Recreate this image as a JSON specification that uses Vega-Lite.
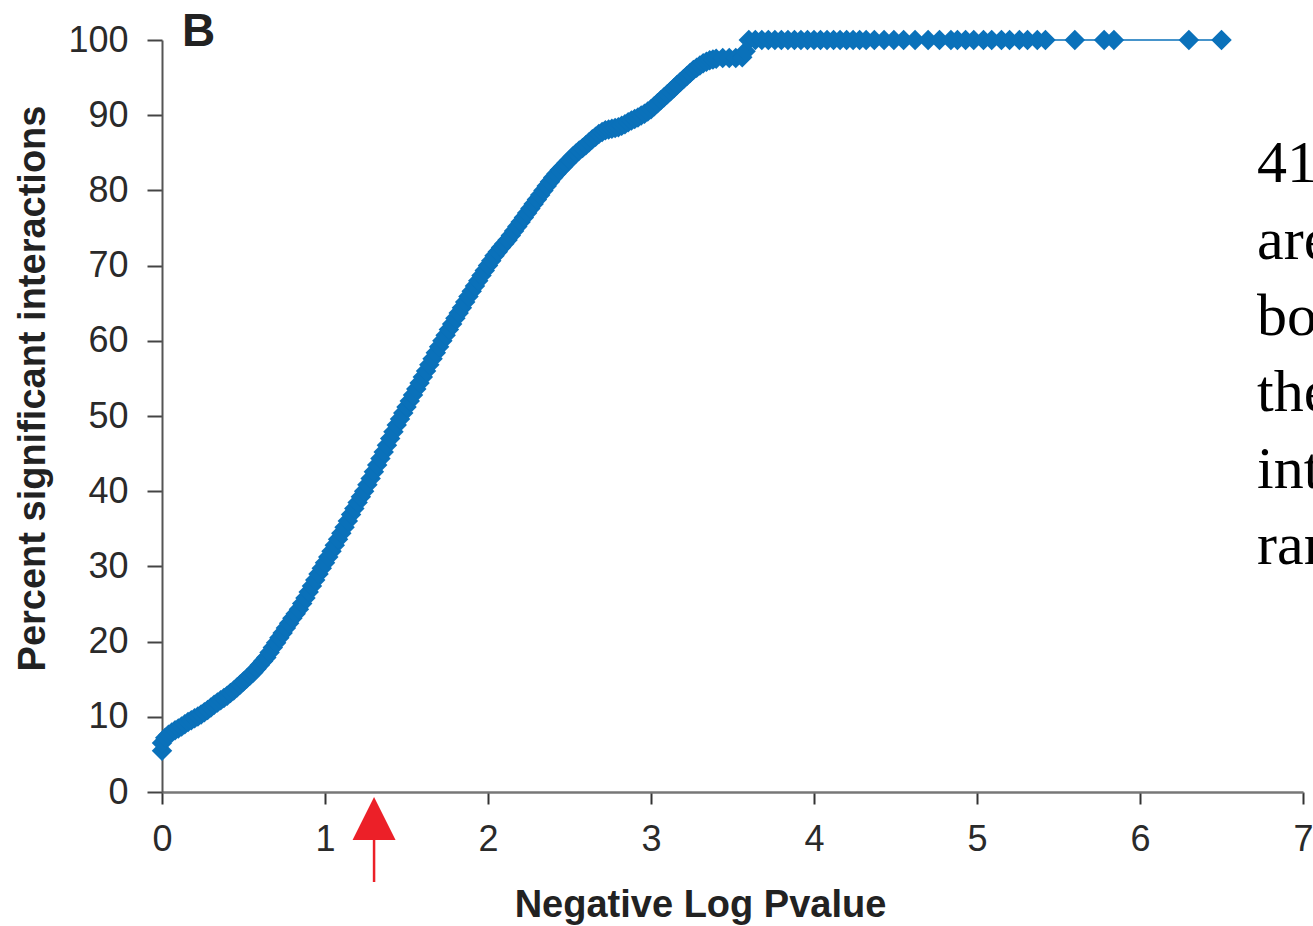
{
  "$schema": "https://vega.github.io/schema/vega-lite/v6.json",
  "width": 1141,
  "height": 752,
  "autosize": {"type": "none"},
  "padding": {"left": 162, "top": 40, "right": 10, "bottom": 134},
  "background": "white",
  "config": {"view": {"stroke": null}},
  "datasets": {
    "curve": [
      {"x":0.00,"y":5.5},{"x":0.00,"y":6.5},{"x":0.02,"y":7.2},{"x":0.04,"y":7.6},{"x":0.06,"y":7.9},{"x":0.08,"y":8.2},{"x":0.10,"y":8.45},{"x":0.12,"y":8.7},{"x":0.14,"y":9.0},{"x":0.16,"y":9.3},{"x":0.18,"y":9.55},{"x":0.20,"y":9.8},{"x":0.22,"y":10.05},{"x":0.24,"y":10.3},{"x":0.26,"y":10.6},{"x":0.28,"y":10.9},{"x":0.30,"y":11.25},{"x":0.32,"y":11.6},{"x":0.34,"y":11.9},{"x":0.36,"y":12.2},{"x":0.38,"y":12.5},{"x":0.40,"y":12.8},{"x":0.42,"y":13.15},{"x":0.44,"y":13.5},{"x":0.46,"y":13.9},{"x":0.48,"y":14.3},{"x":0.50,"y":14.7},{"x":0.52,"y":15.1},{"x":0.54,"y":15.5},{"x":0.56,"y":15.9},{"x":0.58,"y":16.4},{"x":0.60,"y":16.9},{"x":0.62,"y":17.4},{"x":0.64,"y":17.9},{"x":0.66,"y":18.55},{"x":0.68,"y":19.2},{"x":0.70,"y":19.85},{"x":0.72,"y":20.5},{"x":0.74,"y":21.15},{"x":0.76,"y":21.8},{"x":0.78,"y":22.45},{"x":0.80,"y":23.1},{"x":0.82,"y":23.7},{"x":0.84,"y":24.3},{"x":0.86,"y":25.05},{"x":0.88,"y":25.8},{"x":0.90,"y":26.6},{"x":0.92,"y":27.4},{"x":0.94,"y":28.2},{"x":0.96,"y":29.0},{"x":0.98,"y":29.75},{"x":1.00,"y":30.5},{"x":1.02,"y":31.25},{"x":1.04,"y":32.0},{"x":1.06,"y":32.8},{"x":1.08,"y":33.6},{"x":1.10,"y":34.4},{"x":1.12,"y":35.2},{"x":1.14,"y":36.05},{"x":1.16,"y":36.9},{"x":1.18,"y":37.7},{"x":1.20,"y":38.5},{"x":1.22,"y":39.25},{"x":1.24,"y":40.0},{"x":1.26,"y":40.85},{"x":1.28,"y":41.7},{"x":1.30,"y":42.6},{"x":1.32,"y":43.5},{"x":1.34,"y":44.35},{"x":1.36,"y":45.2},{"x":1.38,"y":46.1},{"x":1.40,"y":47.0},{"x":1.42,"y":47.9},{"x":1.44,"y":48.8},{"x":1.46,"y":49.6},{"x":1.48,"y":50.4},{"x":1.50,"y":51.2},{"x":1.52,"y":52.0},{"x":1.54,"y":52.8},{"x":1.56,"y":53.6},{"x":1.58,"y":54.4},{"x":1.60,"y":55.2},{"x":1.62,"y":56.0},{"x":1.64,"y":56.8},{"x":1.66,"y":57.6},{"x":1.68,"y":58.4},{"x":1.70,"y":59.2},{"x":1.72,"y":60.0},{"x":1.74,"y":60.75},{"x":1.76,"y":61.5},{"x":1.78,"y":62.25},{"x":1.80,"y":63.0},{"x":1.82,"y":63.7},{"x":1.84,"y":64.4},{"x":1.86,"y":65.15},{"x":1.88,"y":65.9},{"x":1.90,"y":66.6},{"x":1.92,"y":67.3},{"x":1.94,"y":68.0},{"x":1.96,"y":68.7},{"x":1.98,"y":69.35},{"x":2.00,"y":70.0},{"x":2.02,"y":70.65},{"x":2.04,"y":71.3},{"x":2.06,"y":71.85},{"x":2.08,"y":72.4},{"x":2.10,"y":72.9},{"x":2.12,"y":73.4},{"x":2.14,"y":74.0},{"x":2.16,"y":74.6},{"x":2.18,"y":75.2},{"x":2.20,"y":75.8},{"x":2.22,"y":76.4},{"x":2.24,"y":77.0},{"x":2.26,"y":77.6},{"x":2.28,"y":78.2},{"x":2.30,"y":78.8},{"x":2.32,"y":79.4},{"x":2.34,"y":80.0},{"x":2.36,"y":80.6},{"x":2.38,"y":81.15},{"x":2.40,"y":81.7},{"x":2.42,"y":82.2},{"x":2.44,"y":82.7},{"x":2.46,"y":83.15},{"x":2.48,"y":83.6},{"x":2.50,"y":84.05},{"x":2.52,"y":84.5},{"x":2.54,"y":84.9},{"x":2.56,"y":85.3},{"x":2.58,"y":85.65},{"x":2.60,"y":86.0},{"x":2.62,"y":86.4},{"x":2.64,"y":86.8},{"x":2.66,"y":87.15},{"x":2.68,"y":87.5},{"x":2.70,"y":87.75},{"x":2.72,"y":88.0},{"x":2.74,"y":88.1},{"x":2.76,"y":88.2},{"x":2.78,"y":88.3},{"x":2.80,"y":88.4},{"x":2.82,"y":88.6},{"x":2.84,"y":88.8},{"x":2.86,"y":89.05},{"x":2.88,"y":89.3},{"x":2.90,"y":89.5},{"x":2.92,"y":89.7},{"x":2.94,"y":89.95},{"x":2.96,"y":90.2},{"x":2.98,"y":90.5},{"x":3.00,"y":90.8},{"x":3.02,"y":91.2},{"x":3.04,"y":91.6},{"x":3.06,"y":92.0},{"x":3.08,"y":92.4},{"x":3.10,"y":92.8},{"x":3.12,"y":93.2},{"x":3.14,"y":93.6},{"x":3.16,"y":94.0},{"x":3.18,"y":94.4},{"x":3.20,"y":94.8},{"x":3.22,"y":95.2},{"x":3.24,"y":95.6},{"x":3.26,"y":96.0},{"x":3.28,"y":96.3},{"x":3.30,"y":96.6},{"x":3.32,"y":96.9},{"x":3.34,"y":97.1},{"x":3.36,"y":97.3},{"x":3.38,"y":97.4},{"x":3.40,"y":97.5},{"x":3.44,"y":97.6},{"x":3.48,"y":97.6},{"x":3.52,"y":97.6},{"x":3.56,"y":97.7},{"x":3.58,"y":98.5},{"x":3.60,"y":100},
      {"x":3.64,"y":100},{"x":3.68,"y":100},{"x":3.72,"y":100},{"x":3.76,"y":100},{"x":3.80,"y":100},{"x":3.84,"y":100},{"x":3.88,"y":100},{"x":3.92,"y":100},{"x":3.96,"y":100},{"x":4.00,"y":100},{"x":4.04,"y":100},{"x":4.08,"y":100},{"x":4.12,"y":100},{"x":4.16,"y":100},{"x":4.20,"y":100},{"x":4.24,"y":100},{"x":4.28,"y":100},
      {"x":4.32,"y":100},{"x":4.37,"y":100},{"x":4.43,"y":100},{"x":4.49,"y":100},{"x":4.55,"y":100},{"x":4.62,"y":100},{"x":4.70,"y":100},{"x":4.77,"y":100},{"x":4.84,"y":100},{"x":4.88,"y":100},{"x":4.93,"y":100},{"x":4.98,"y":100},{"x":5.04,"y":100},{"x":5.09,"y":100},{"x":5.15,"y":100},{"x":5.20,"y":100},{"x":5.26,"y":100},{"x":5.31,"y":100},{"x":5.37,"y":100},{"x":5.42,"y":100},{"x":5.60,"y":100},{"x":5.78,"y":100},{"x":5.84,"y":100},{"x":6.30,"y":100},{"x":6.50,"y":100}
    ],
    "sidetext": [
      {"t":"41%","x":6.718,"y":81.1},
      {"t":"are","x":6.718,"y":70.9},
      {"t":"both","x":6.718,"y":60.8},
      {"t":"the","x":6.718,"y":50.6},
      {"t":"int","x":6.718,"y":40.4},
      {"t":"ran","x":6.718,"y":30.3}
    ]
  },
  "layer": [
    {
      "data": {"name": "curve"},
      "mark": {"type": "line", "color": "#0a71ba", "strokeWidth": 1.5},
      "encoding": {
        "x": {
          "field": "x", "type": "quantitative",
          "scale": {"domain": [0, 7], "nice": false, "zero": false},
          "axis": {
            "values": [0,1,2,3,4,5,6,7],
            "format": "d",
            "title": "Negative Log Pvalue",
            "grid": false,
            "domainColor": "#777", "domainWidth": 2.5,
            "tickColor": "#333", "tickWidth": 2, "tickSize": 12,
            "labelFont": "Liberation Sans", "labelFontSize": 36, "labelColor": "#2a2a2a",
            "labelPadding": 18, "labelFlush": false, "labelOverlap": false,
            "titleFont": "Liberation Sans", "titleFontSize": 38, "titleFontWeight": "bold", "titleColor": "#222",
            "titleX": 538, "titleY": 124, "titleAlign": "center", "titleBaseline": "alphabetic", "titleAnchor": null
          }
        },
        "y": {
          "field": "y", "type": "quantitative",
          "scale": {"domain": [0, 100], "nice": false},
          "axis": {
            "values": [0,10,20,30,40,50,60,70,80,90,100],
            "title": "Percent significant interactions",
            "grid": false,
            "domainColor": "#555", "domainWidth": 2,
            "tickColor": "#444", "tickWidth": 2, "tickSize": 15,
            "labelFont": "Liberation Sans", "labelFontSize": 36, "labelColor": "#2a2a2a",
            "labelPadding": 19, "labelFlush": false, "labelOverlap": false,
            "titleFont": "Liberation Sans", "titleFontSize": 38, "titleFontWeight": "bold", "titleColor": "#222",
            "titleX": -118, "titleY": 348, "titleAngle": -90, "titleAlign": "center", "titleBaseline": "alphabetic", "titleAnchor": null
          }
        }
      }
    },
    {
      "data": {"name": "curve"},
      "mark": {"type": "point", "shape": "diamond", "filled": true, "size": 420, "color": "#0a71ba", "opacity": 1},
      "encoding": {
        "x": {"field": "x", "type": "quantitative"},
        "y": {"field": "y", "type": "quantitative"}
      }
    },
    {
      "data": {"values": [{"x": 1.301, "y": -3.52}]},
      "mark": {"type": "point", "shape": "M0,-1L1,1L-1,1Z", "filled": true, "size": 1849, "color": "#ec2028", "opacity": 1},
      "encoding": {
        "x": {"field": "x", "type": "quantitative"},
        "y": {"field": "y", "type": "quantitative"}
      }
    },
    {
      "data": {"values": [{"x": 1.301, "y": -6.3, "y2": -11.97}]},
      "mark": {"type": "rule", "color": "#ec2028", "strokeWidth": 2.5},
      "encoding": {
        "x": {"field": "x", "type": "quantitative"},
        "y": {"field": "y", "type": "quantitative"},
        "y2": {"field": "y2"}
      }
    },
    {
      "data": {"values": [{"t": "B", "x": 0.123, "y": 99.2}]},
      "mark": {"type": "text", "align": "left", "baseline": "alphabetic", "font": "Liberation Sans", "fontWeight": "bold", "fontSize": 46, "color": "#222"},
      "encoding": {
        "x": {"field": "x", "type": "quantitative"},
        "y": {"field": "y", "type": "quantitative"},
        "text": {"field": "t"}
      }
    },
    {
      "data": {"name": "sidetext"},
      "mark": {"type": "text", "align": "left", "baseline": "alphabetic", "font": "Liberation Serif", "fontSize": 60, "color": "#000"},
      "encoding": {
        "x": {"field": "x", "type": "quantitative"},
        "y": {"field": "y", "type": "quantitative"},
        "text": {"field": "t"}
      }
    }
  ]
}
